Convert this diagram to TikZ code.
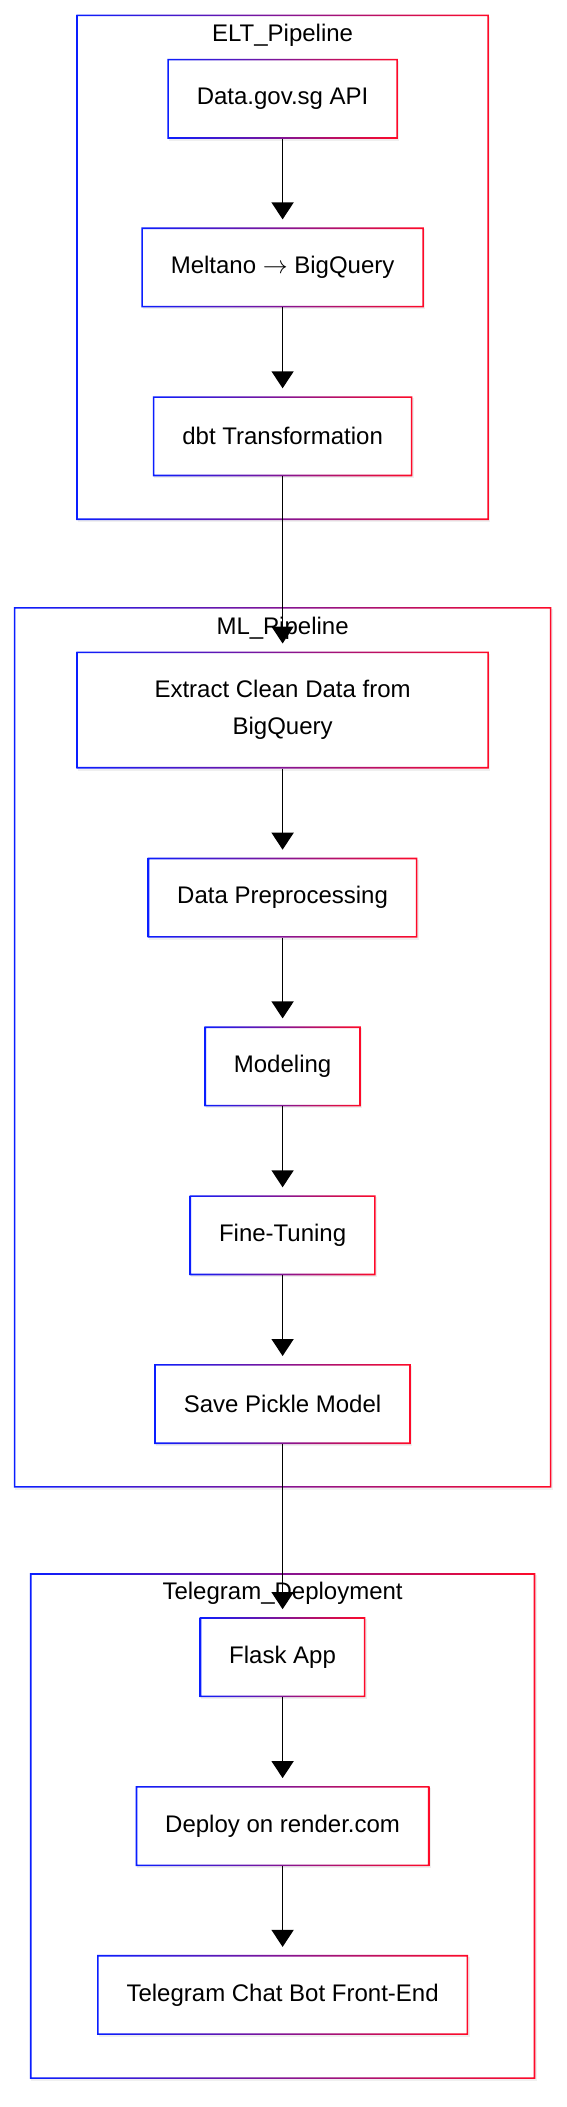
\documentclass[tikz,border=0pt]{standalone}
\usepackage{fontspec}
\setmainfont{Liberation Sans}
\usepackage{tikz}
\usetikzlibrary{arrows.meta}
\usetikzlibrary{positioning}
\usetikzlibrary{shadows}
\definecolor{lineblue}{RGB}{10,30,255}
\definecolor{linered}{RGB}{255,10,40}
\tikzset{
	boxshadow/.style={drop shadow={opacity=0.12,shadow xshift=1.5pt,shadow yshift=-2pt}},
	stage/.style={fill=white, boxshadow, inner xsep=29.5pt, inner ysep=0pt, minimum height=80pt, outer sep=0pt, align=center, font=\fontsize{24}{37}\selectfont},
	cluster/.style={fill=white, boxshadow, inner sep=0pt, outer sep=0pt},
	clustertitle/.style={anchor=base, inner sep=0pt, font=\fontsize{24}{29}\selectfont},
	gradline/.style={even odd rule, left color=lineblue, right color=linered},
	flow/.style={line width=1.5pt, -{Triangle[width=22pt,length=17pt]}, shorten >=8pt}
}
\newcommand{\gradrect}[1]{%
	\path[gradline] (#1.south west) rectangle (#1.north east)
		([shift={(1.6pt,1.6pt)}]#1.south west) rectangle ([shift={(-1.6pt,-1.6pt)}]#1.north east);}
\begin{document}
\begin{tikzpicture}[x=1pt,y=-1pt]
		\useasboundingbox (0,0) rectangle (567,2107);
		\node[cluster, minimum width=412.6pt, minimum height=505.5pt] (eltbox) at (282.6,267.25) {};
		\node[cluster, minimum width=537.6pt, minimum height=880.7pt] (mlbox) at (282.6,1047.35) {};
		\node[cluster, minimum width=505.3pt, minimum height=505.7pt] (tgbox) at (282.6,1826.05) {};
		\foreach \c in {eltbox,mlbox,tgbox} \gradrect{\c};
		\node[clustertitle] (elttitle) at (282.6,41.5) {ELT\_Pipeline};
		\node[clustertitle] (mltitle) at (282.6,634.7) {ML\_Pipeline};
		\node[clustertitle] (tgtitle) at (282.6,1599.8) {Telegram\_Deployment};
		
		\node[stage] (datagov) at (282.6,98.8) {Data.gov.sg API};
		\node[stage] (meltano) at (282.6,267.4) {Meltano $\rightarrow$ BigQuery};
		\node[stage] (dbt) at (282.6,436.3) {dbt Transformation};
		
		\node[stage, minimum width=412.6pt, minimum height=117pt] (extract) at (282.6,710) {Extract Clean Data from\\BigQuery};
		\node[stage] (preproc) at (282.6,897.7) {Data Preprocessing};
		\node[stage] (modeling) at (282.6,1066.4) {Modeling};
		\node[stage] (finetune) at (282.6,1235.3) {Fine-Tuning};
		\node[stage] (savepkl) at (282.6,1404) {Save Pickle Model};
		
		\node[stage] (flask) at (282.6,1657.2) {Flask App};
		\node[stage] (deploy) at (282.6,1826.1) {Deploy on render.com};
		\node[stage] (tgbot) at (282.6,1994.9) {Telegram Chat Bot Front-End};
		
		\foreach \n in {datagov,meltano,dbt,extract,preproc,modeling,finetune,savepkl,flask,deploy,tgbot} \gradrect{\n};
		
		\draw[flow] (datagov) -- (meltano);
		\draw[flow] (meltano) -- (dbt);
		\draw[flow] (dbt) -- (extract);
		\draw[flow] (extract) -- (preproc);
		\draw[flow] (preproc) -- (modeling);
		\draw[flow] (modeling) -- (finetune);
		\draw[flow] (finetune) -- (savepkl);
		\draw[flow] (savepkl) -- (flask);
		\draw[flow] (flask) -- (deploy);
		\draw[flow] (deploy) -- (tgbot);
	\end{tikzpicture}
\end{document}
